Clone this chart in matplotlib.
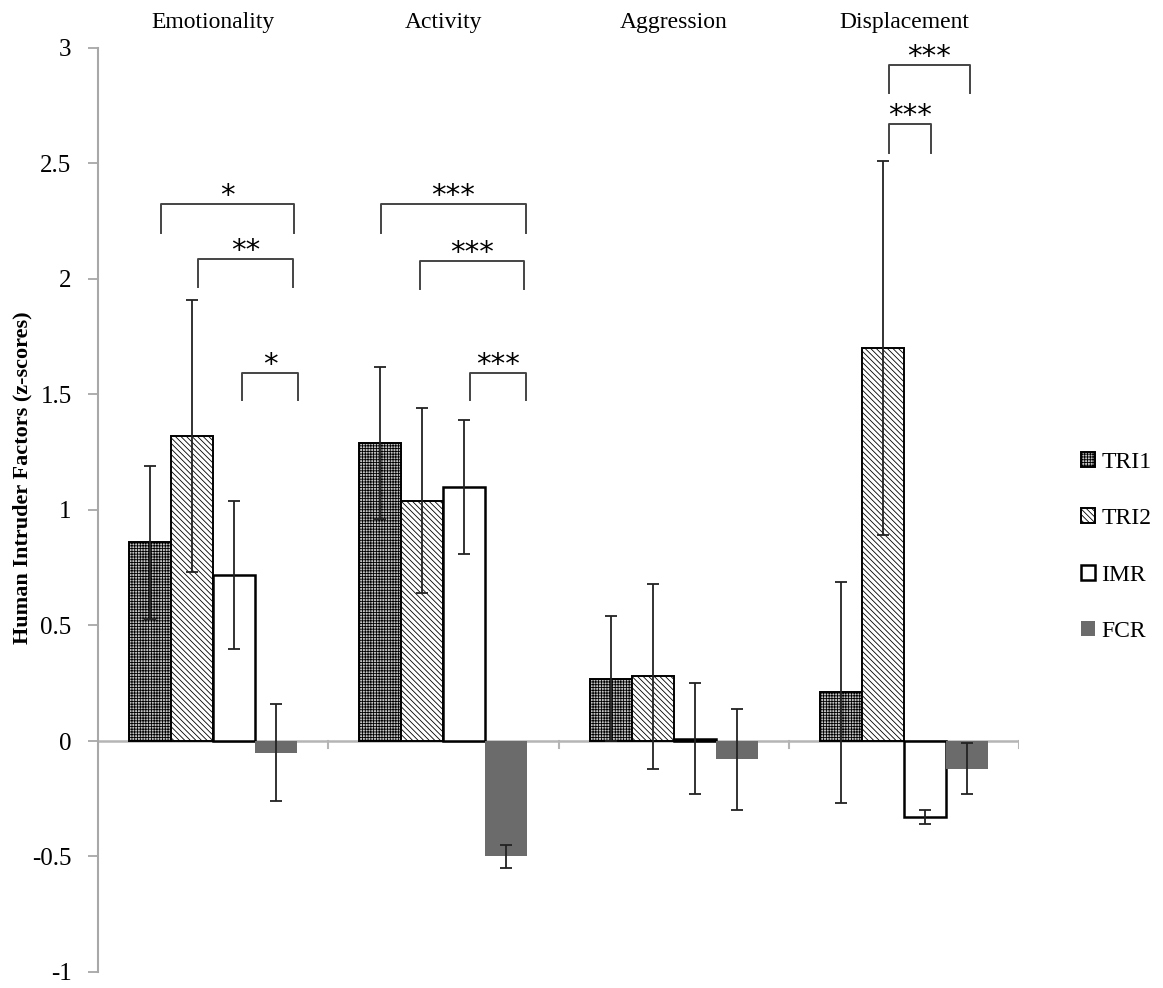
import numpy as np
import matplotlib
matplotlib.use("Agg")
import matplotlib.pyplot as plt

plt.rcParams['font.family'] = ['Liberation Serif', 'DejaVu Serif']
plt.rcParams['hatch.linewidth'] = 0.6

# factor scores (z) per group, with error bars
factors = ['Emotionality', 'Activity', 'Aggression', 'Displacement']
groups = ['TRI1', 'TRI2', 'IMR', 'FCR']
means = {
    'TRI1': [0.86, 1.29, 0.27, 0.21],
    'TRI2': [1.32, 1.04, 0.28, 1.70],
    'IMR':  [0.72, 1.10, 0.01, -0.33],
    'FCR':  [-0.05, -0.50, -0.08, -0.12],
}
errors = {
    'TRI1': [0.33, 0.33, 0.27, 0.48],
    'TRI2': [0.59, 0.40, 0.40, 0.81],
    'IMR':  [0.32, 0.29, 0.24, 0.03],
    'FCR':  [0.21, 0.05, 0.22, 0.11],
}

# significance brackets: factor index, x start, x end (offset from group centre), top, leg bottom, stars
brackets = [
    (0, -0.226, 0.352, 2.325, 2.20, '*'),
    (0, -0.065, 0.348, 2.087, 1.965, '**'),
    (0, 0.126, 0.370, 1.593, 1.476, '*'),
    (1, -0.270, 0.357, 2.325, 2.20, '***'),
    (1, -0.100, 0.348, 2.078, 1.957, '***'),
    (1, 0.117, 0.357, 1.593, 1.476, '***'),
    (3, -0.065, 0.287, 2.926, 2.805, '***'),
    (3, -0.065, 0.117, 2.671, 2.545, '***'),
]

styles = {
    'TRI1': dict(facecolor='#c4c4c4', edgecolor='black', hatch='++++++', linewidth=1.4),
    'TRI2': dict(facecolor='white', edgecolor='black', hatch='\\\\\\\\\\\\', linewidth=1.4),
    'IMR':  dict(facecolor='white', edgecolor='black', linewidth=1.8),
    'FCR':  dict(facecolor='#6b6b6b', edgecolor='#6b6b6b', linewidth=0),
}

fig = plt.figure(figsize=(11.63, 9.88), dpi=100)
ax = fig.add_axes([98 / 1163, 1 - 972 / 988, 921 / 1163, 924 / 988])

x = np.arange(len(factors))
w = 0.1825
for i, g in enumerate(groups):
    pos = x + (i - 1.5) * w
    ax.bar(pos, means[g], w, label=g, zorder=2, **styles[g])
    ax.errorbar(pos, means[g], yerr=errors[g], fmt='none', ecolor='#222222',
                elinewidth=1.3, capsize=4, capthick=1.3, zorder=3)

for fi, x0, x1, top, leg, txt in brackets:
    ax.plot([fi + x0, fi + x0, fi + x1, fi + x1], [leg, top, top, leg],
            color='#444444', lw=1.4, zorder=4)
    ax.text(fi + (x0 + x1) / 2, top + 0.0, txt, ha='center', va='baseline',
            fontsize=21, family='DejaVu Sans')

# zero baseline with small ticks between the factor groups
ax.axhline(0, color='#b5b5b5', lw=1.8, zorder=1)
for b in np.arange(-0.5, len(factors), 1.0):
    ax.plot([b, b], [0, -0.03], color='#b5b5b5', lw=1.5, zorder=1)

for i, f in enumerate(factors):
    ax.text(i, 3.087, f, ha='center', va='baseline', fontsize=17)

ax.set_xlim(-0.5, 3.5)
ax.set_ylim(-1, 3)
ax.set_yticks([-1, -0.5, 0, 0.5, 1, 1.5, 2, 2.5, 3])
ax.set_yticklabels(['-1', '-0.5', '0', '0.5', '1', '1.5', '2', '2.5', '3'])
ax.set_xticks([])
ax.tick_params(axis='y', labelsize=18, color='#a0a0a0', length=7, width=1.2, pad=12)
for s in ['top', 'right', 'bottom']:
    ax.spines[s].set_visible(False)
ax.spines['left'].set_color('#a8a8a8')
ax.spines['left'].set_linewidth(1.5)

fig.text(22 / 1163, 1 - 478 / 988, 'Human Intruder Factors (z-scores)', rotation=90,
         ha='center', va='center', fontsize=16, fontweight='bold')

fig.legend(loc='center left', bbox_to_anchor=(1081 / 1163, 1 - 547 / 988), frameon=False,
           fontsize=17, handlelength=0.6, handleheight=0.6, handletextpad=0.25,
           labelspacing=1.5, borderpad=0, borderaxespad=0)

fig.savefig('out.png', dpi=100)
